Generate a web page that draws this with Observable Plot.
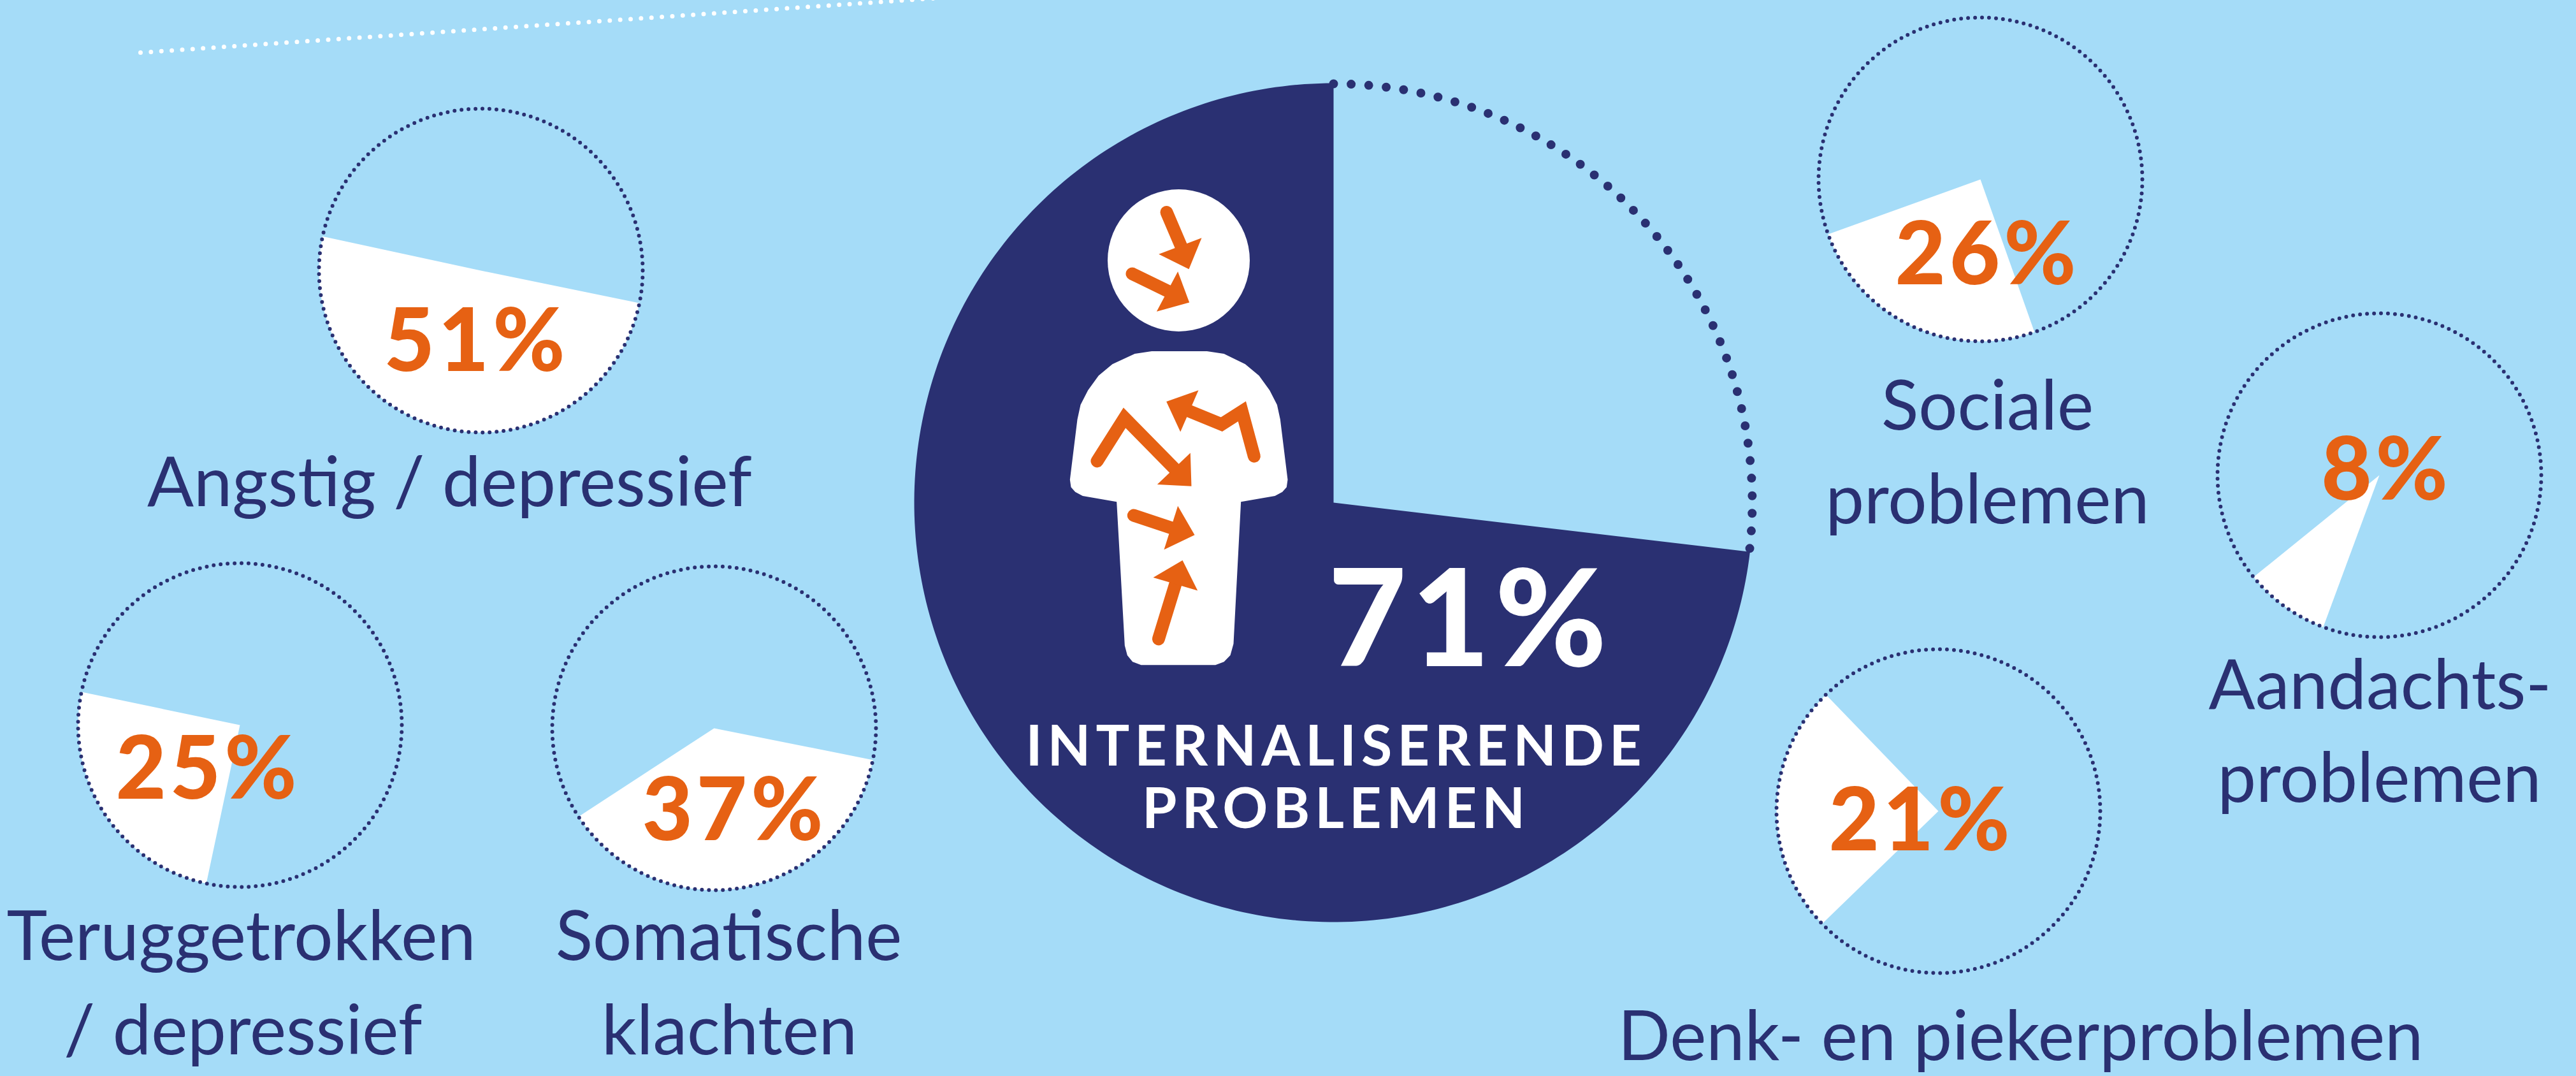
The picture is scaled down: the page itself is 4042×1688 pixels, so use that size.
<!DOCTYPE html>
<html><head><meta charset="utf-8">
<style>html,body{margin:0;padding:0;background:#A5DCF8}svg{display:block}</style>
<script src="https://cdn.jsdelivr.net/npm/d3@7"></script>
<script src="https://cdn.jsdelivr.net/npm/@observablehq/plot@0.6"></script>
</head><body><div id="chart"></div>
<script>
// ---- chart values ----
const categories = ["Angstig / depressief","Teruggetrokken / depressief","Somatische klachten","Sociale problemen","Aandachtsproblemen","Denk- en piekerproblemen"];
const percentages = [51,25,37,26,8,21];
// drawn wedges: clockwise degrees from 12 o'clock
const wedgeFrom = [101.6,192,101.3,160.5,200.3,225.9];
const wedgeTo   = [282.2,281.8,236.9,250.2,231,316];
const mainPercent = 71;
const mainFrom = 96.75, mainTo = 360;
const mainTitle = ["INTERNALISERENDE","PROBLEMEN"];

// ---- layout ----
const W = 4042, H = 1688;
const BG="#A5DCF8", NAVY="#2A3072", ORANGE="#E66113", WHITE="#FFFFFF";
const R = 254, MAIN = {x:2092,y:788,r:658};
const cx = [754,376,1120,3107,3733,3041];
const cy = [424,1137,1142,281,745,1272];
const pctX = [747,326,1152,3118,3744,3014];
const pctY = [581,1252,1317,445,783,1333];
const labelLines = [
 {t:"Angstig / depressief",x:705,y:793},
 {t:"Teruggetrokken",x:378,y:1505},{t:"/ depressief",x:381,y:1653},
 {t:"Somatische",x:1143,y:1505},{t:"klachten",x:1144,y:1653},
 {t:"Sociale",x:3118,y:673},{t:"problemen",x:3118,y:820},
 {t:"Aandachts-",x:3734,y:1111},{t:"problemen",x:3733,y:1257},
 {t:"Denk- en piekerproblemen",x:3170,y:1662}
];
const FONT="Lato";
const pt=(x,y,deg,r)=>{const a=deg*Math.PI/180;return {x:x+r*Math.sin(a),y:y-r*Math.cos(a)}};
const arc=(x,y,r,a,b)=>{const n=Math.ceil(Math.abs(b-a));return d3.range(n+1).map(i=>pt(x,y,a+(b-a)*i/n,r))};

const wedges = categories.flatMap((c,i)=>[{x:cx[i],y:cy[i],id:c},...arc(cx[i],cy[i],R,wedgeFrom[i],wedgeTo[i]).map(p=>({...p,id:c}))]);
const mainWedge = [{x:MAIN.x,y:MAIN.y},...arc(MAIN.x,MAIN.y,MAIN.r,mainFrom,mainTo)];
const mainDots = arc(MAIN.x,MAIN.y,MAIN.r-1,0,mainFrom);
const circles = categories.map((c,i)=>({x:cx[i],y:cy[i]}));
const pctData = categories.map((c,i)=>({t:percentages[i]+"%",x:pctX[i],y:pctY[i]}));

// ---- pictogram, traced outline coordinates ----
const ix=X=>1620+X/3, iy=Y=>280+Y/1.96;
const toPts=(arr,id)=>arr.map(([X,Y])=>({x:ix(X),y:iy(Y),id}));
const bodyOutline=[[560,530],[820,530],[900,538],[1000,570],[1065,605],[1115,650],[1150,695],[1165,740],[1200,925],[1195,948],[1175,963],[1140,975],[980,993],[945,1430],[930,1465],[900,1485],[860,1495],[510,1495],[470,1485],[445,1465],[433,1435],[395,993],[235,975],[200,963],[180,948],[175,925],[210,740],[225,695],[260,650],[310,605],[375,570],[480,538]];
const heads=[
 [[795,182],[735,278],[593,232]],
 [[683,285],[737,380],[583,408]],
 [[742,843],[747,945],[586,940]],
 [[780,650],[629,685],[695,778]],
 [[683,1006],[762,1095],[618,1140]],
 [[705,1173],[776,1266],[567,1226]]
];
const shafts=[
 [[630,103],[700,210]],
 [[468,292],[650,350]],
 [[303,868],[432,735],[668,892]],
 [[1042,853],[985,715],[889,755],[735,714]],
 [[475,1035],[660,1075]],
 [[592,1415],[672,1245]]
];
const headPts=heads.flatMap((h,i)=>toPts(h,"h"+i));
const shaftPts=shafts.flatMap((s,i)=>toPts(s,"s"+i));

const line=[{x:220,y:82},{x:1470,y:-3.5}];

const plot = Plot.plot({
  width:W,height:H,margin:0,
  style:{background:BG,fontFamily:FONT},
  x:{domain:[0,W],range:[0,W],axis:null},
  y:{domain:[0,H],range:[0,H],axis:null},
  marks:[
    Plot.line(line,{x:"x",y:"y",stroke:WHITE,strokeWidth:7,strokeDasharray:"0 16.4",strokeLinecap:"round"}),
    // small pies
    Plot.line(wedges,{x:"x",y:"y",z:"id",fill:WHITE,stroke:"none",curve:"linear-closed"}),
    Plot.dot(circles,{x:"x",y:"y",r:R,fill:"none",stroke:NAVY,strokeWidth:6,strokeDasharray:"0 11",strokeLinecap:"round"}),
    // main pie
    Plot.line(mainDots,{x:"x",y:"y",stroke:NAVY,strokeWidth:14,strokeDasharray:"0 27.6",strokeLinecap:"round"}),
    Plot.line(mainWedge,{x:"x",y:"y",fill:NAVY,stroke:"none",curve:"linear-closed"}),
    // person
    Plot.dot([{x:1849,y:408}],{x:"x",y:"y",r:111.5,fill:WHITE,stroke:"none"}),
    Plot.line(toPts(bodyOutline,"b"),{x:"x",y:"y",fill:WHITE,stroke:"none",curve:"linear-closed"}),
    Plot.line(shaftPts,{x:"x",y:"y",z:"id",stroke:ORANGE,strokeWidth:20,strokeLinecap:"round",strokeLinejoin:"miter",strokeMiterlimit:4}),
    Plot.line(headPts,{x:"x",y:"y",z:"id",fill:ORANGE,stroke:"none",curve:"linear-closed"}),
    // texts
    Plot.text(pctData,{x:"x",y:"y",text:"t",lineAnchor:"bottom",textAnchor:"middle",fill:ORANGE,fontSize:137,fontWeight:900,fontFamily:FONT}),
    Plot.text(labelLines,{x:"x",y:"y",text:"t",lineAnchor:"bottom",textAnchor:"middle",fill:NAVY,fontSize:108,fontFamily:FONT}),
    Plot.text([{t:mainPercent+"%",x:2306,y:1044}],{x:"x",y:"y",text:"t",lineAnchor:"bottom",textAnchor:"middle",fill:WHITE,fontSize:212,fontWeight:900,fontFamily:FONT}),
    Plot.text(mainTitle.map((t,i)=>({t,x:2096,y:[1200,1298][i]})),{x:"x",y:"y",text:"t",lineAnchor:"bottom",textAnchor:"middle",fill:WHITE,fontSize:88,fontWeight:700,fontFamily:FONT})
  ]
});
d3.select(plot).selectAll("text").filter(function(){return mainTitle.includes(this.textContent)}).style("letter-spacing","8px");
d3.select(plot).selectAll("text").filter(function(){return /%$/.test(this.textContent)}).style("letter-spacing",function(){return this.textContent.startsWith("71")?"8px":"6px"});
document.getElementById("chart").append(plot);
</script></body></html>
